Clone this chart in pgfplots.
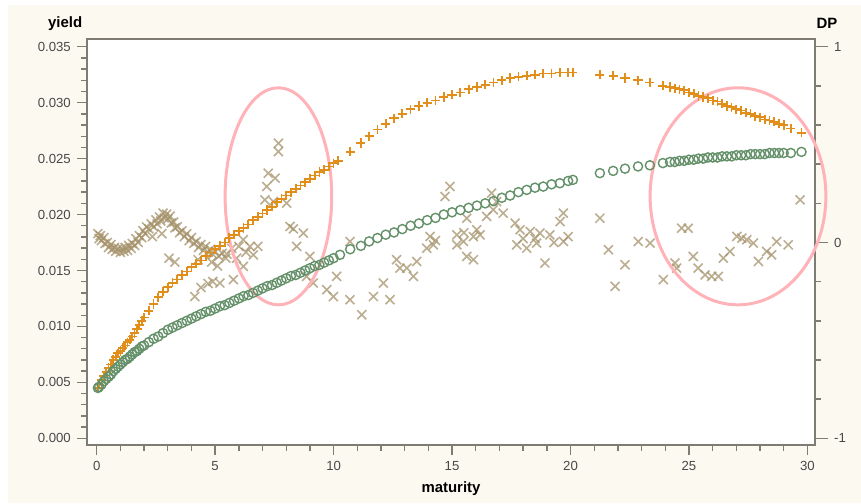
\documentclass[border=0pt]{standalone}
\usepackage{pgfplots}
\pgfplotsset{compat=1.18}
\usepackage{fontspec}
\setmainfont{Liberation Sans}

\definecolor{cream}{RGB}{252,249,241}
\definecolor{axisgray}{RGB}{128,124,116}
\definecolor{ticktext}{RGB}{72,72,72}
\definecolor{yieldorange}{RGB}{226,142,26}
\definecolor{fitgreen}{RGB}{100,145,105}
\definecolor{dptan}{RGB}{165,146,106}
\definecolor{ringpink}{RGB}{255,178,184}

% shared frame: 1px of the reference = 0.02cm
\pgfplotsset{
  chartbase/.style={
    scale only axis, width=14.56cm, height=8.12cm,
    at={(0,0)}, anchor=south west,
    xmin=-0.41, xmax=30.32,
    tick align=outside,
    axis line style={draw=axisgray, line width=1pt},
    tick style={draw=axisgray, line width=0.8pt},
    major tick length=0.2cm, minor tick length=0.11cm,
    tick label style={font=\fontsize{7.5}{9}\selectfont, text=ticktext},
    /pgf/number format/assume math mode=true,
    clip=false,
  }
}

\begin{document}
\begin{tikzpicture}
\fill[white] (-1.74,-1.16) rectangle (15.48,8.9);
\fill[cream] (-1.58,-1.16) rectangle (15.48,8.8);
\fill[white] (0,0) rectangle (14.56,8.12);

% DP (right axis)
\begin{axis}[chartbase,
  ymin=-1.0343, ymax=1.0394,
  axis x line=none,
  axis y line*=right,
  ytick={-1,0,1}, minor y tick num=4,
  major tick length=0.26cm,
  ylabel={DP},
  ylabel style={at={(rel axis cs:1.0165,1.039)}, rotate=-90, anchor=center,
    font=\bfseries\fontsize{8.5}{10}\selectfont},
]
\addplot[only marks, mark=x, mark size=3.6pt, color=dptan, opacity=0.75,
  mark options={line width=0.9pt}] coordinates {
  (0.05,0.045) (0.1,0.02) (0.15,0.035) (0.2,0.01) (0.3,0.025) (0.35,-0.005)
  (0.45,0.0) (0.5,-0.025) (0.6,-0.01) (0.65,-0.035) (0.75,-0.025) (0.8,-0.045)
  (0.9,-0.03) (1.0,-0.05) (1.05,-0.03) (1.15,-0.045) (1.2,-0.025) (1.3,-0.04)
  (1.35,-0.015) (1.45,-0.03) (1.5,-0.005) (1.6,-0.015) (1.65,0.02) (1.75,0.0)
  (1.8,0.035) (1.9,0.025) (1.95,0.06) (2.05,0.045) (2.1,0.08) (2.2,0.07)
  (2.3,0.095) (2.35,0.03) (2.4,0.08) (2.5,0.115) (2.55,0.095) (2.65,0.13)
  (2.7,0.11) (2.75,0.045) (2.8,0.15) (2.85,0.125) (2.95,0.145) (3.0,0.12)
  (3.1,0.135) (3.15,0.1) (3.25,0.105) (3.3,0.075) (3.4,0.08) (3.5,0.05)
  (3.6,0.06) (3.7,0.03) (3.8,0.045) (3.9,0.01) (4.0,0.025) (4.1,-0.005)
  (4.2,0.005) (4.3,-0.025) (4.4,-0.01) (4.5,-0.04) (4.6,-0.02) (4.7,-0.05)
  (4.8,-0.035) (4.9,-0.06) (5.0,-0.045) (5.15,-0.07) (5.3,-0.055) (5.45,-0.08)
  (3.05,-0.08) (3.3,-0.1) (4.28,-0.088) (4.4,-0.23) (4.7,-0.21) (4.14,-0.276)
  (4.9,-0.199) (5.2,-0.207) (5.77,-0.19) (4.85,-0.1) (5.1,-0.12)
  (5.5,-0.06) (5.7,-0.03) (5.9,-0.08) (6.0,-0.02) (6.19,0.014) (6.19,-0.122)
  (6.3,-0.05) (6.47,-0.02) (6.61,-0.063) (6.8,-0.02)
  (7.67,0.507) (7.67,0.464) (7.24,0.354) (7.53,0.329) (7.18,0.286) (7.1,0.218)
  (7.46,0.209) (8.02,0.201) (8.16,0.082) (8.3,0.07) (8.72,0.048) (8.44,-0.02)
  (9.0,-0.071) (8.86,-0.173) (9.14,-0.207) (9.71,-0.241)
  (10.13,-0.173) (9.99,-0.276) (10.69,-0.292) (10.69,0.005) (11.19,-0.369)
  (11.68,-0.276) (12.1,-0.207) (12.38,-0.292) (12.66,-0.088) (12.8,-0.131)
  (13.09,-0.131) (13.37,-0.173) (13.51,-0.097) (13.93,-0.029) (14.07,0.031)
  (14.21,-0.012) (14.3,0.01) (14.7,0.235) (14.91,0.286) (15.2,0.039)
  (15.2,-0.012) (15.48,0.005) (15.5,0.05) (15.62,0.124) (15.62,-0.071)
  (15.9,-0.088) (15.9,0.03) (16.04,0.065) (16.18,0.039) (16.46,0.133)
  (16.67,0.252) (16.74,0.167) (16.88,0.209) (17.16,0.15) (17.66,0.099)
  (17.73,-0.012) (17.87,0.065) (18.0,0.02) (18.15,-0.029) (18.3,0.056)
  (18.5,0.02) (18.57,-0.003) (18.71,0.048) (18.92,-0.105) (19.13,0.039)
  (19.3,0.0) (19.56,0.107) (19.7,0.15) (19.7,0.005) (19.9,0.03)
  (21.24,0.124) (21.6,-0.037) (21.88,-0.224) (22.3,-0.114) (22.86,0.005)
  (23.36,-0.003) (23.92,-0.19) (24.41,-0.105) (24.48,-0.131) (24.69,0.073)
  (24.97,0.073) (25.18,-0.071) (25.39,-0.131) (25.68,-0.165) (25.96,-0.173)
  (26.24,-0.173) (26.45,-0.08) (26.73,-0.046) (27.02,0.031) (27.23,0.022)
  (27.44,0.014) (27.72,-0.003) (27.93,-0.097) (28.28,-0.046) (28.49,-0.063)
  (28.7,0.005) (29.19,-0.012) (29.69,0.218)
};
\end{axis}

% yield (left axis)
\begin{axis}[chartbase,
  ymin=-0.0006, ymax=0.03569,
  xtick={0,5,10,15,20,25,30}, minor x tick num=4,
  ytick={0,0.005,0.01,0.015,0.02,0.025,0.03,0.035}, minor y tick num=4,
  xtick pos=left, ytick pos=left,
  scaled y ticks=false,
  yticklabel style={/pgf/number format/.cd, fixed, fixed zerofill, precision=3},
  xlabel={maturity},
  xlabel style={at={(rel axis cs:0.5,-0.108)}, anchor=center,
    font=\bfseries\fontsize{8.5}{10}\selectfont},
  ylabel={yield},
  ylabel style={at={(rel axis cs:-0.03,1.037)}, rotate=-90, anchor=center,
    font=\bfseries\fontsize{8.5}{10}\selectfont},
]
\addplot[only marks, mark=+, mark size=2.6pt, color=yieldorange,
  mark options={line width=1pt}] coordinates {
  (0.05,0.0045) (0.1,0.0048) (0.2,0.0052) (0.3,0.0056) (0.4,0.0059) (0.5,0.0063)
  (0.6,0.0066) (0.7,0.0070) (0.8,0.0073) (0.9,0.0076) (1.0,0.0078) (1.1,0.0081)
  (1.2,0.0083) (1.3,0.0086) (1.4,0.0088) (1.5,0.0091) (1.6,0.0094) (1.7,0.0098)
  (1.8,0.0101) (1.9,0.0105) (2.0,0.0108) (2.2,0.0114) (2.4,0.0120) (2.6,0.0126)
  (2.8,0.0131) (3.0,0.0135) (3.2,0.0139) (3.4,0.0142) (3.6,0.0146) (3.8,0.0149)
  (4.0,0.0153) (4.2,0.0156) (4.4,0.0159) (4.6,0.0163) (4.8,0.0166) (5.0,0.0169)
  (5.2,0.0172) (5.4,0.0175) (5.6,0.0179) (5.8,0.0182) (6.0,0.0185) (6.2,0.0188)
  (6.4,0.0191) (6.6,0.0195) (6.8,0.0198) (7.0,0.0201) (7.2,0.0204) (7.4,0.0207)
  (7.6,0.0211) (7.8,0.0214) (8.0,0.0217) (8.2,0.0220) (8.4,0.0223) (8.6,0.0226)
  (8.8,0.0229) (9.0,0.0232) (9.2,0.0235) (9.4,0.0238) (9.6,0.0240) (9.8,0.0243)
  (10.0,0.0246) (10.2,0.0248) (10.7,0.0256) (11.15,0.0264)
  (11.5,0.0270) (11.85,0.0276) (12.2,0.0281) (12.55,0.0286) (12.9,0.0290)
  (13.25,0.0294) (13.6,0.0297) (13.95,0.0300) (14.3,0.0302) (14.65,0.0305)
  (15.0,0.0307) (15.35,0.0309) (15.7,0.0312) (16.05,0.0314) (16.4,0.0316)
  (16.75,0.0318) (17.1,0.0320) (17.45,0.0322) (17.8,0.0323) (18.15,0.0324)
  (18.5,0.0325) (18.85,0.0326) (19.2,0.0326) (19.55,0.0327) (19.9,0.0327)
  (20.1,0.0327)
  (21.24,0.0325) (21.8,0.0324) (22.3,0.0322) (22.85,0.0320) (23.35,0.0318)
  (23.9,0.0315) (24.2,0.0314) (24.4,0.0313) (24.6,0.0312) (24.8,0.0311)
  (25.0,0.0309) (25.2,0.0308) (25.4,0.0306) (25.6,0.0305) (25.8,0.0304)
  (26.0,0.0302) (26.2,0.0301) (26.4,0.0299) (26.6,0.0297) (26.8,0.0296)
  (27.0,0.0294) (27.2,0.0293) (27.4,0.0291) (27.6,0.0290) (27.8,0.0288)
  (28.0,0.0287) (28.2,0.0285) (28.4,0.0284) (28.6,0.0283) (28.8,0.0281)
  (29.0,0.0280) (29.3,0.0277) (29.75,0.0273)
};
\addplot[only marks, mark=o, mark size=2.6pt, color=fitgreen,
  mark options={line width=0.8pt}] coordinates {
  (0.05,0.0045) (0.1,0.0046) (0.2,0.0048) (0.3,0.0051) (0.4,0.0053) (0.5,0.0055)
  (0.6,0.0057) (0.7,0.0060) (0.8,0.0062) (0.9,0.0064) (1.0,0.0066) (1.1,0.0068)
  (1.2,0.0070) (1.3,0.0071) (1.4,0.0073) (1.5,0.0075) (1.6,0.0077) (1.7,0.0078)
  (1.8,0.0080) (1.9,0.0082) (2.0,0.0083) (2.2,0.0086) (2.4,0.0089) (2.6,0.0091)
  (2.8,0.0094) (3.0,0.0097) (3.2,0.0099) (3.4,0.0101) (3.6,0.0103) (3.8,0.0105)
  (4.0,0.0107) (4.2,0.0109) (4.4,0.0111) (4.6,0.0113) (4.8,0.0114) (5.0,0.0116)
  (5.2,0.0118) (5.4,0.0119) (5.6,0.0121) (5.8,0.0123) (6.0,0.0125) (6.2,0.0127)
  (6.4,0.0128) (6.6,0.0130) (6.8,0.0132) (7.0,0.0134) (7.2,0.0136) (7.4,0.0137)
  (7.6,0.0139) (7.8,0.0141) (8.0,0.0143) (8.2,0.0145) (8.4,0.0146) (8.6,0.0148)
  (8.8,0.0150) (9.0,0.0152) (9.2,0.0154) (9.4,0.0155) (9.6,0.0157) (9.8,0.0159)
  (10.0,0.0161) (10.27,0.0164) (10.7,0.0169) (11.15,0.0172)
  (11.5,0.0176) (11.85,0.0179) (12.2,0.0182) (12.55,0.0184) (12.9,0.0187)
  (13.25,0.0190) (13.6,0.0192) (13.95,0.0195) (14.3,0.0197) (14.65,0.0200)
  (15.0,0.0202) (15.35,0.0204) (15.7,0.0206) (16.05,0.0208) (16.4,0.0210)
  (16.75,0.0212) (17.1,0.0215) (17.45,0.0217) (17.8,0.0220) (18.15,0.0222)
  (18.5,0.0224) (18.85,0.0225) (19.2,0.0227) (19.55,0.0228) (19.9,0.0230)
  (20.1,0.0231)
  (21.24,0.0237) (21.8,0.0239) (22.3,0.0241) (22.85,0.0243) (23.35,0.0244)
  (23.9,0.0246) (24.2,0.0247) (24.4,0.0247) (24.6,0.0248) (24.8,0.0248)
  (25.0,0.0249) (25.2,0.0249) (25.4,0.0250) (25.6,0.0250) (25.8,0.0251)
  (26.0,0.0251) (26.2,0.0251) (26.4,0.0252) (26.6,0.0252) (26.8,0.0252)
  (27.0,0.0253) (27.2,0.0253) (27.4,0.0253) (27.6,0.0254) (27.8,0.0254)
  (28.0,0.0254) (28.2,0.0254) (28.4,0.0255) (28.6,0.0255) (28.8,0.0255)
  (29.0,0.0255) (29.3,0.0255) (29.75,0.0256)
};
% highlight rings
\draw[ringpink, line width=1.7pt] (axis cs:7.67,0.02163) ellipse [x radius=2.25, y radius=0.0097];
\draw[ringpink, line width=1.7pt] (axis cs:27.07,0.02163) ellipse [x radius=3.71, y radius=0.0097];
\end{axis}
\end{tikzpicture}
\end{document}
